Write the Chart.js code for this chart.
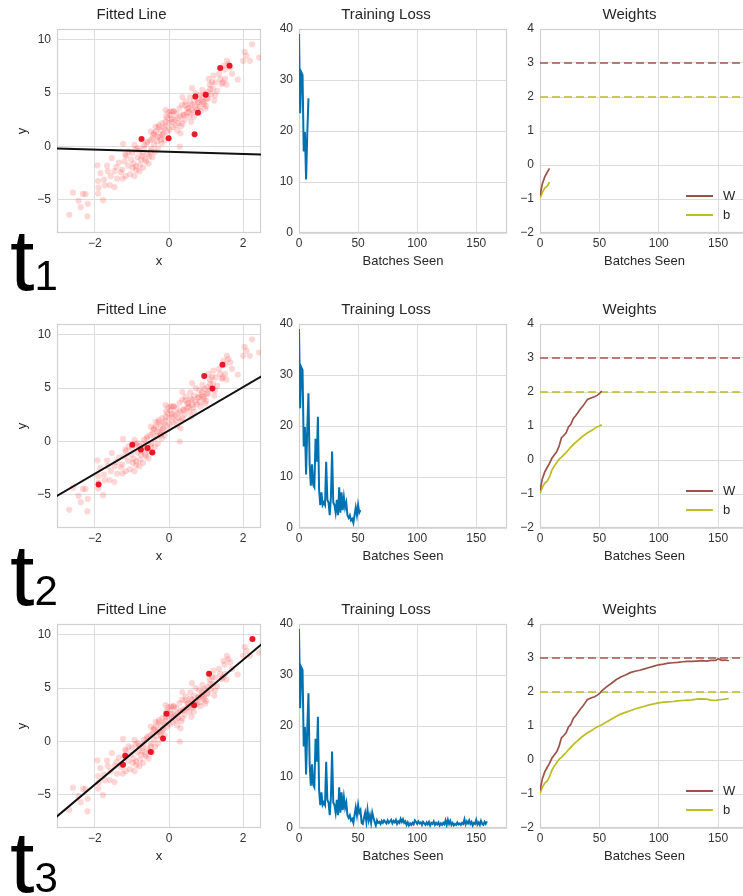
<!DOCTYPE html>
<html>
<head>
<meta charset="utf-8">
<script src="https://cdn.jsdelivr.net/npm/chart.js@4.4.0/dist/chart.umd.min.js"></script>
<style>
body { margin: 0; width: 743px; height: 896px; overflow: hidden; background: #fff; position: relative; }
.panel { position: absolute; }
.tag { position: absolute; left: 10px; font-family: "Liberation Sans", Arial, sans-serif; font-size: 88px; line-height: 1; color: #000; z-index: 5; }
.tag span { font-size: 42px; }
</style>
</head>
<body>
<div class="tag" style="top:216px">t<span>1</span></div>
<div class="tag" style="top:531px">t<span>2</span></div>
<div class="tag" style="top:818px">t<span>3</span></div>
<script>
// data set (x, y) shown in every "Fitted Line" panel
const dataX = [-2.69,-2.20,-2.38,-2.44,-2.59,-2.32,-2.19,-2.25,-1.91,-1.91,-1.90,-1.78,-1.93,-1.67,-1.73,-1.60,-1.47,-1.57,-1.47,-1.42,
  -1.54,-1.26,-1.17,-1.24,-1.18,-1.09,-1.02,-0.98,-0.93,-0.89,-0.80,-0.76,-0.71,-0.93,-0.84,-0.62,-0.53,-0.49,-0.67,-0.58,
  -0.44,-0.49,-0.40,-0.31,-0.36,-0.27,-0.22,-0.18,-0.13,-0.09,-0.04,-0.09,0.04,0.12,0.09,0.18,0.24,0.31,0.29,0.36,
  0.40,0.44,0.49,0.36,0.58,0.53,0.62,0.67,0.60,0.62,0.71,0.80,0.84,0.89,0.93,0.98,1.02,1.04,1.11,1.07,
  1.16,1.24,1.20,1.38,1.42,1.51,1.47,1.56,1.60,1.85,2.00,2.04,2.18,2.24,2.09,2.43,
  -1.85,-1.75,-1.65,-1.40,-1.35,-1.30,-1.25,-1.20,-1.15,-1.10,-1.05,-1.00,-0.95,-0.90,-0.88,-0.85,-0.80,-0.78,-0.72,-0.70,
  -0.68,-0.65,-0.60,-0.58,-0.55,-0.50,-0.48,-0.45,-0.42,-0.40,-0.38,-0.35,-0.33,-0.30,-0.28,-0.25,-0.22,-0.20,-0.18,-0.15,
  -0.12,-0.10,-0.08,-0.05,-0.02,0.00,0.02,0.05,0.08,0.10,0.13,0.15,0.20,0.22,0.25,0.28,0.30,0.33,0.35,0.38,
  0.42,0.45,0.48,0.52,0.55,0.57,0.62,0.65,0.68,0.72,0.75,0.78,0.82,0.85,0.88,0.90,0.95,0.97,1.00,1.05,
  1.10,1.13,1.18,1.22,1.25,1.30,1.35,1.45,1.50,1.55,1.65,1.70];
const dataY = [-6.39,-6.54,-5.68,-5.09,-4.32,-4.44,-5.37,-4.45,-4.41,-3.24,-3.86,-5.03,-1.76,-1.79,-3.64,-3.61,-3.80,-2.78,-2.31,-1.91,
  -1.08,-2.16,-2.78,0.25,-0.77,-0.46,-1.23,-2.00,-2.78,-1.85,-2.31,-1.23,-0.62,0.15,-0.15,-1.39,-0.93,-0.46,0.15,0.46,
  0.77,1.39,1.23,0.93,1.85,2.00,0.62,1.08,1.70,2.31,2.62,3.40,2.93,3.30,2.31,2.00,2.62,1.23,0.00,2.16,
  2.93,3.86,3.55,4.63,4.01,3.24,3.40,2.78,2.31,5.46,3.70,4.17,3.70,4.63,4.17,3.55,4.48,5.09,5.40,6.33,
  6.02,4.78,6.64,6.33,5.86,6.33,7.56,8.02,7.72,6.27,8.02,8.86,8.02,9.57,8.49,8.33,
  -2.50,-3.10,-2.30,-3.00,-1.50,-2.40,-3.00,-1.40,-0.90,-1.80,-2.60,-0.60,-1.60,-0.30,-2.20,-1.00,-0.40,-1.70,-0.90,-2.00,
  -0.20,-1.20,0.30,-0.70,-1.60,0.60,-0.20,-1.00,1.10,0.20,-0.50,1.40,0.50,-0.20,1.80,0.90,1.50,0.30,2.20,1.20,
  0.60,1.90,2.80,1.40,3.20,2.20,1.60,3.30,2.60,1.80,3.30,2.50,3.10,1.50,2.20,3.60,2.80,1.90,3.90,3.00,
  2.50,4.20,3.10,3.60,2.80,4.60,3.90,3.20,4.30,5.00,3.50,4.10,4.80,3.30,4.30,5.30,4.00,4.90,3.80,4.50,
  5.80,4.90,5.40,4.30,6.00,5.20,6.80,6.00,7.20,5.80,7.40,6.80];

// current mini-batch highlighted in each row
const batch1X = [-0.74,-0.01,0.69,0.71,0.99,0.78,1.38,1.63];
const batch1Y = [0.71,0.77,1.14,4.69,4.85,3.15,7.35,7.56];
const batch2X = [-0.99,-0.76,-0.58,-0.45,-1.90,0.95,1.17,1.44];
const batch2Y = [-0.31,-0.74,-0.62,-1.02,-4.02,6.14,4.96,7.19];
const batch3X = [2.25,1.08,0.68,-0.07,-0.16,-0.49,-1.18,-1.24];
const batch3Y = [9.59,6.35,3.39,2.59,0.28,-0.99,-1.33,-2.17];

// training loss per batch (batch 0..159)
const loss = [39.0,23.5,31.5,31.0,16.0,19.8,10.5,19.5,26.4,12.5,
  8.3,12.5,8.5,8.0,17.5,13.0,21.8,7.5,4.5,7.0,
  4.5,5.0,4.5,13.0,5.5,5.0,2.5,6.0,15.0,5.0,
  4.5,3.0,5.5,2.5,8.0,3.0,7.0,3.5,6.0,4.0,
  5.0,2.5,2.0,2.5,1.5,1.8,1.0,2.5,4.0,2.5,
  4.5,3.0,3.5,1.0,0.8,2.0,3.0,1.2,3.5,1.5,
  2.5,1.0,3.0,2.0,1.2,0.5,1.5,1.0,1.2,0.8,
  1.4,1.0,1.5,1.2,0.9,1.5,1.0,1.3,1.6,0.9,
  1.4,1.1,1.6,0.8,1.3,1.0,1.8,1.2,1.7,1.0,
  1.3,0.6,1.1,0.5,0.9,0.6,1.0,0.7,1.5,1.2,
  0.8,1.3,0.9,1.1,0.6,1.2,0.9,0.6,1.1,0.7,
  1.2,0.5,1.0,0.8,1.3,0.6,1.0,0.7,1.1,0.5,
  0.9,0.6,1.0,0.7,1.5,0.6,1.6,0.8,1.4,0.6,
  1.0,0.5,0.8,0.6,1.1,0.7,0.9,0.6,1.0,0.8,
  1.7,0.7,1.3,0.9,1.5,0.8,1.2,0.5,1.0,0.8,
  1.6,0.7,1.1,0.6,1.4,0.8,0.6,1.2,0.8,1.3];

// weights W and b during training
const weightBatch = [0,2,4,6,8,10,12,14,16,18,20,22,24,26,28,30,32,34,36,38,40,42,44,46,48,50,52,
  56,60,64,68,72,76,80,84,88,92,96,100,104,108,112,116,120,124,128,132,136,140,144,148,150,153,156,159];
const weightW = [-0.90,-0.55,-0.35,-0.22,-0.10,0.05,0.15,0.24,0.40,0.65,0.72,0.80,0.97,1.05,1.22,1.30,1.40,1.50,1.58,1.68,1.78,1.81,1.84,1.86,1.90,1.95,2.03,
  2.15,2.25,2.36,2.44,2.50,2.57,2.61,2.64,2.68,2.72,2.76,2.80,2.82,2.85,2.86,2.87,2.89,2.90,2.90,2.91,2.92,2.91,2.93,2.93,2.98,2.93,2.94,2.92];
const weightB = [-0.98,-0.80,-0.68,-0.62,-0.50,-0.30,-0.18,-0.08,0.02,0.08,0.15,0.22,0.30,0.38,0.45,0.52,0.58,0.64,0.70,0.75,0.80,0.84,0.88,0.93,0.97,1.00,1.04,
  1.12,1.20,1.28,1.35,1.40,1.45,1.50,1.54,1.58,1.62,1.65,1.68,1.70,1.71,1.72,1.74,1.75,1.76,1.77,1.79,1.80,1.79,1.76,1.75,1.77,1.78,1.79,1.81];
const trueW = 3;
const trueB = 2;

// last batch shown in each row (t1, t2, t3)
const stepsShown = [8, 52, 159];
const batchX = [batch1X, batch2X, batch3X];
const batchY = [batch1Y, batch2Y, batch3Y];

Chart.defaults.font.family = '"Liberation Sans", Arial, sans-serif';
Chart.defaults.color = '#333';
Chart.defaults.animation = false;

const rowTop = [0, 295, 595];
const colLeft = [0, 265, 510];
const colWidth = [265, 245, 245];
const yAxisWidth = [57, 34, 30];
const rightPad = [2, 3, 6];
const panelHeight = 275;

const gridColor = '#dcdcdc';
const colorW = '#9a5349';
const colorB = '#bcbd22';
const lossColor = '#0072b2';

function fmt(v) {
  return v < 0 ? '\u2212' + Math.abs(v) : String(v);
}

// matplotlib-like frame around the axes
const frame = {
  id: 'frame',
  beforeDatasetsDraw(chart) {
    const a = chart.chartArea, ctx = chart.ctx;
    ctx.save();
    ctx.strokeStyle = '#d0d0d0';
    ctx.lineWidth = 1.2;
    ctx.strokeRect(Math.round(a.left) + 0.5, Math.round(a.top) + 0.5, Math.round(a.right - a.left) - 1, Math.round(a.bottom - a.top) - 1);
    ctx.restore();
  }
};

// legend drawn inside the axes, lower right
const innerLegend = {
  id: 'innerLegend',
  afterDatasetsDraw(chart) {
    const a = chart.chartArea, ctx = chart.ctx;
    const items = chart.data.datasets.filter(d => d.inLegend);
    ctx.save();
    items.forEach((d, i) => {
      const y = a.bottom - 37 + i * 19;
      ctx.strokeStyle = d.borderColor;
      ctx.lineWidth = 2;
      ctx.beginPath();
      ctx.moveTo(a.right - 63, y);
      ctx.lineTo(a.right - 36, y);
      ctx.stroke();
      ctx.fillStyle = '#262626';
      ctx.font = '13px "Liberation Sans", Arial, sans-serif';
      ctx.textBaseline = 'middle';
      ctx.fillText(d.label, a.right - 26, y);
    });
    ctx.restore();
  }
};

function makeScales(col, xr, yr, xTitle, yTitle) {
  return {
    x: {
      type: 'linear', min: xr[0], max: xr[1],
      ticks: { stepSize: xr[2], includeBounds: false, padding: 3, font: { size: 12 }, callback: fmt, maxRotation: 0 },
      grid: { color: gridColor, drawTicks: false },
      border: { display: false },
      title: { display: true, text: xTitle, color: '#262626', font: { size: 13 }, padding: { top: 0, bottom: 6 } },
      afterFit(s) { s.height = 42; }
    },
    y: {
      type: 'linear', min: yr[0], max: yr[1],
      ticks: { stepSize: yr[2], includeBounds: false, padding: 6, font: { size: 12 }, callback: fmt },
      grid: { color: gridColor, drawTicks: false },
      border: { display: false },
      title: { display: !!yTitle, text: yTitle || '', color: '#262626', font: { size: 13 }, padding: { top: 15, bottom: 0 } },
      afterFit(s) { s.width = yAxisWidth[col]; }
    }
  };
}

function makeOptions(col, title, scales) {
  return {
    responsive: false,
    devicePixelRatio: 1,
    layout: { padding: { left: 0, right: rightPad[col], top: 0, bottom: 0 } },
    plugins: {
      legend: { display: false },
      tooltip: { enabled: false },
      title: { display: true, text: title, color: '#262626', font: { size: 15, weight: 'normal' }, padding: { top: 6, bottom: 5 } }
    },
    scales: scales
  };
}

function addCanvas(row, col) {
  const div = document.createElement('div');
  div.className = 'panel';
  div.style.left = colLeft[col] + 'px';
  div.style.top = rowTop[row] + 'px';
  const c = document.createElement('canvas');
  c.width = colWidth[col];
  c.height = panelHeight;
  c.style.width = colWidth[col] + 'px';
  c.style.height = panelHeight + 'px';
  div.appendChild(c);
  document.body.appendChild(div);
  return c;
}

function toPoints(xs, ys) {
  return xs.map((x, i) => ({ x: x, y: ys[i] }));
}

stepsShown.forEach((step, row) => {
  const k = weightBatch.indexOf(step);
  const W = weightW[k], b = weightB[k];

  // Fitted Line
  const lineX = [-3.2, 2.7];
  new Chart(addCanvas(row, 0), {
    type: 'scatter',
    data: {
      datasets: [
        { type: 'line', data: lineX.map(x => ({ x: x, y: W * x + b })), borderColor: '#111', borderWidth: 2, pointRadius: 0, clip: 0, order: 0 },
        { data: toPoints(batchX[row], batchY[row]), backgroundColor: 'rgba(232,8,24,0.92)', borderWidth: 0, pointRadius: 3, order: 1 },
        { data: toPoints(dataX, dataY), backgroundColor: 'rgba(255,40,40,0.19)', borderWidth: 0, pointRadius: 3.1, order: 2 }
      ]
    },
    options: makeOptions(0, 'Fitted Line', makeScales(0, [-3.02, 2.48, 2], [-8.1, 11, 5], 'x', 'y')),
    plugins: [frame]
  });

  // Training Loss
  const lossPts = loss.slice(0, step + 1).map((v, i) => ({ x: i, y: v }));
  new Chart(addCanvas(row, 1), {
    type: 'line',
    data: {
      datasets: [
        { data: lossPts, borderColor: lossColor, borderWidth: 2, pointRadius: 0, tension: 0, clip: 0 }
      ]
    },
    options: makeOptions(1, 'Training Loss', makeScales(1, [0, 176, 50], [0, 40, 10], 'Batches Seen', null)),
    plugins: [frame]
  });

  // Weights
  const shownW = [], shownB = [];
  weightBatch.forEach((bt, i) => {
    if (bt <= step) {
      shownW.push({ x: bt, y: weightW[i] });
      shownB.push({ x: bt, y: weightB[i] });
    }
  });
  const xEnds = [0, 176];
  new Chart(addCanvas(row, 2), {
    type: 'line',
    data: {
      datasets: [
        { label: 'W', inLegend: true, data: shownW, borderColor: colorW, borderWidth: 1.7, pointRadius: 0, tension: 0, clip: 0 },
        { label: 'b', inLegend: true, data: shownB, borderColor: colorB, borderWidth: 1.7, pointRadius: 0, tension: 0, clip: 0 },
        { data: xEnds.map(x => ({ x: x, y: trueW })), borderColor: '#a8544b', borderWidth: 1.6, borderDash: [8, 4], pointRadius: 0, clip: 0 },
        { data: xEnds.map(x => ({ x: x, y: trueB })), borderColor: colorB, borderWidth: 1.6, borderDash: [8, 4], pointRadius: 0, clip: 0 }
      ]
    },
    options: makeOptions(2, 'Weights', makeScales(2, [0, 176, 50], [-2, 4, 1], 'Batches Seen', null)),
    plugins: [frame, innerLegend]
  });
});
</script>
</body>
</html>
